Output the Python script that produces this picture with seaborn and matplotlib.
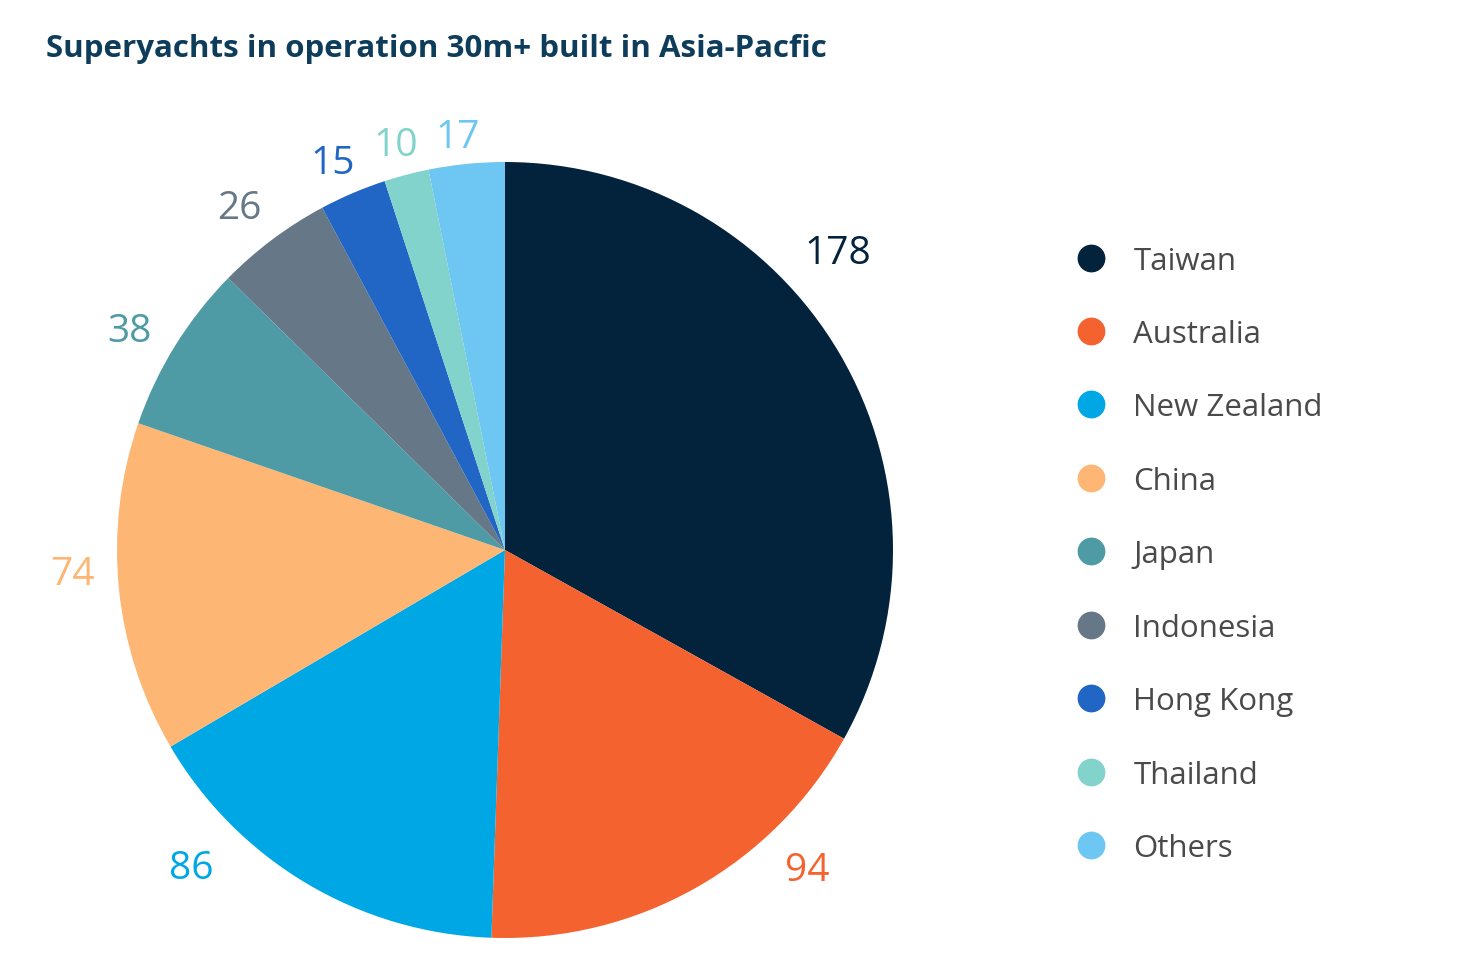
import numpy as np
import matplotlib
matplotlib.use('Agg')
import matplotlib.pyplot as plt
from matplotlib.lines import Line2D
import seaborn as sns

# Data
countries = ['Taiwan', 'Australia', 'New Zealand', 'China', 'Japan',
             'Indonesia', 'Hong Kong', 'Thailand', 'Others']
yachts = [178, 94, 86, 74, 38, 26, 15, 10, 17]
colours = ['#03223C', '#F4622F', '#00A7E5', '#FDB674', '#4E9BA6',
           '#667887', '#2166C4', '#82D3CB', '#6EC7F2']

# label nudges (degrees) so the big numbers sit where the original had them
label_shift = [11.5, 14.5, -14.0, -3.0, 1.0, 0.5, 0.5, 0.0, 0.5]
label_dist = [1.16, 1.13, 1.14, 1.11, 1.12, 1.12, 1.10, 1.09, 1.08]

sns.set_style('white')
plt.rcParams['font.family'] = ['Open Sans', 'DejaVu Sans']
palette = sns.color_palette(colours)

W, H = 1457, 970
fig = plt.figure(figsize=(W / 100, H / 100), dpi=100)
fig.patch.set_facecolor('white')

cx, cy, r = 505, 551, 388
ax = fig.add_axes([(cx - r) / W, (H - cy - r) / H, 2 * r / W, 2 * r / H])
wedges, _ = ax.pie(yachts, colors=palette, startangle=90, counterclock=False,
                   radius=1, wedgeprops=dict(linewidth=0))
ax.set_xlim(-1, 1)
ax.set_ylim(-1, 1)
ax.set_aspect('equal')
ax.axis('off')

for w, val, col, sh, d in zip(wedges, yachts, palette, label_shift, label_dist):
    ang = np.deg2rad((w.theta1 + w.theta2) / 2 + sh)
    ax.text(d * np.cos(ang) - 0.005, d * np.sin(ang) - 0.01, str(val), color=col,
            fontsize=28, ha='center', va='center', clip_on=False)

fig.text(46 / W, 1 - 49 / H, 'Superyachts in operation 30m+ built in Asia-Pacfic',
         fontsize=22.5, fontweight='bold', color='#0E3D5C', ha='left', va='center')

handles = [Line2D([0], [0], marker='o', linestyle='', markersize=19,
                  markerfacecolor=c, markeredgecolor=c) for c in palette]
leg = fig.legend(handles, countries, loc='upper left',
                 bbox_to_anchor=(1063 / W, 1 - 234 / H), frameon=False,
                 fontsize=22.5, labelspacing=1.39, handlelength=1.0,
                 handletextpad=0.85, borderaxespad=0)
for t in leg.get_texts():
    t.set_color('#4A4A4A')

fig.savefig('out.png', dpi=100, facecolor='white')
